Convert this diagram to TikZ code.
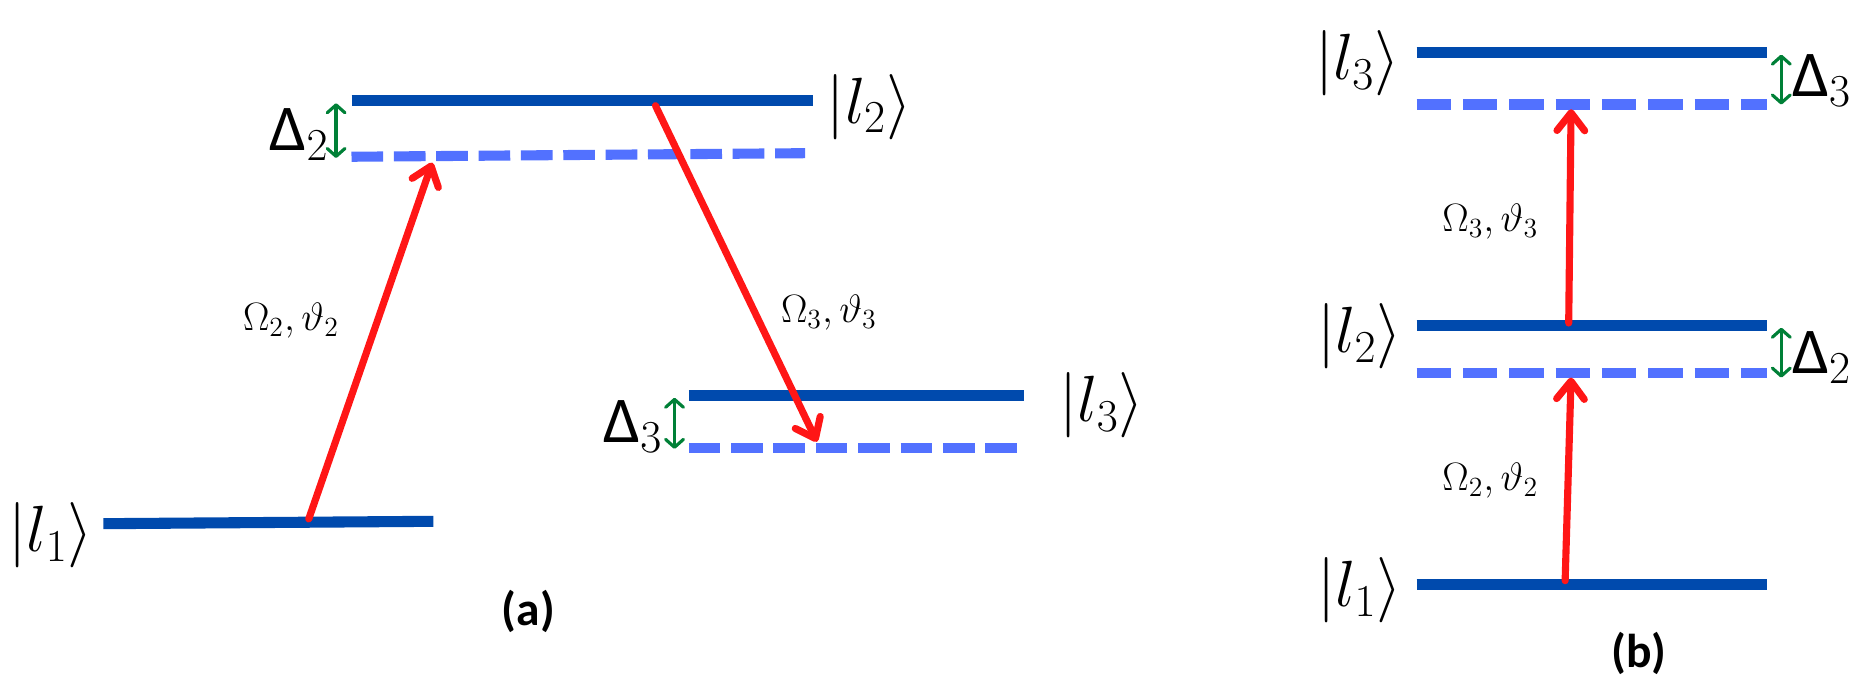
\RequirePackage{fix-cm}
\documentclass[tikz,border=0pt]{standalone}
\usepackage{fontspec}
\newfontfamily\labfont{Carlito}
\usetikzlibrary{arrows.meta}
\definecolor{lvlblue}{RGB}{0,74,173}
\definecolor{dashblue}{RGB}{82,113,255}
\definecolor{arrred}{RGB}{255,22,22}
\definecolor{detgreen}{RGB}{0,128,55}
\newcommand{\Dlt}{\mbox{\labfont Δ}}
\begin{document}
\begin{tikzpicture}[x=0.6pt,y=-0.6pt,
  level/.style={draw=lvlblue, line width=5.6pt},
  vlevel/.style={draw=dashblue, line width=5.1pt, dash pattern=on 16pt off 5.4pt},
  vlevelb/.style={draw=dashblue, line width=5.1pt, dash pattern=on 17.4pt off 6pt},
  trans/.style={draw=arrred, line width=3.6pt, line cap=round,
    -{Straight Barb[length=9pt,width=14pt,round]}},
  det/.style={draw=detgreen, line width=1.6pt,
    {Straight Barb[length=4pt,width=9pt,round]}-{Straight Barb[length=4pt,width=9pt,round]}},
  ket/.style={font=\fontsize{33}{40}\selectfont, inner sep=0pt},
  rab/.style={font=\fontsize{20}{24}\selectfont, inner sep=0pt},
  panellab/.style={font=\labfont\bfseries\fontsize{24}{28}\selectfont, inner sep=0pt}
]
\useasboundingbox (0,0) rectangle (1568,576);

% ---------- panel (a) ----------
\coordinate (a1L) at (87,441);  \coordinate (a1R) at (365,439);
\coordinate (a2L) at (296,85);  \coordinate (a2R) at (685,85);
\coordinate (a2vL) at (296,132); \coordinate (a2vR) at (678,129);
\coordinate (a3L) at (580,333); \coordinate (a3R) at (862,333);
\coordinate (a3vL) at (580,377); \coordinate (a3vR) at (862,377);

\draw[level] (a1L) -- (a1R);
\draw[level] (a2L) -- (a2R);
\draw[vlevel] (a2vL) -- (a2vR);
\draw[level] (a3L) -- (a3R);
\draw[vlevel] (a3vL) -- (a3vR);

\coordinate (aS1) at (260,437); \coordinate (aT1) at (364,137);
\coordinate (aS2) at (552,89);  \coordinate (aT2) at (688,372);
\draw[trans] (aS1) -- (aT1);
\draw[trans] (aS2) -- (aT2);

\coordinate (aD2t) at (283,87);  \coordinate (aD2b) at (283,133);
\coordinate (aD3t) at (568,335); \coordinate (aD3b) at (568,378);
\draw[det] (aD2t) -- (aD2b);
\draw[det] (aD3t) -- (aD3b);

\node[ket] (ka1) at (43,451) {$|l_1\rangle$};
\node[ket] (ka2) at (732,90) {$|l_2\rangle$};
\node[ket] (ka3) at (928,341) {$|l_3\rangle$};
\node[ket, anchor=east] (da2) at (277,113) {$\Dlt_2$};
\node[ket, anchor=east] (da3) at (558,359) {$\Dlt_3$};
\node[rab] (ra2) at (245,270) {$\Omega_2,\vartheta_2$};
\node[rab] (ra3) at (698,263) {$\Omega_3,\vartheta_3$};
\node[panellab] (capa) at (445,515) {(a)};

% ---------- panel (b) ----------
\coordinate (b1L) at (1193,492); \coordinate (b1R) at (1488,492);
\coordinate (b2L) at (1193,274); \coordinate (b2R) at (1488,274);
\coordinate (b2vL) at (1193,314); \coordinate (b2vR) at (1488,314);
\coordinate (b3L) at (1193,44);  \coordinate (b3R) at (1488,44);
\coordinate (b3vL) at (1193,88); \coordinate (b3vR) at (1488,88);

\draw[level] (b1L) -- (b1R);
\draw[level] (b2L) -- (b2R);
\draw[vlevelb] (b2vL) -- (b2vR);
\draw[level] (b3L) -- (b3R);
\draw[vlevelb] (b3vL) -- (b3vR);

\coordinate (bS1) at (1318,489); \coordinate (bT1) at (1323,318);
\coordinate (bS2) at (1321,272); \coordinate (bT2) at (1323,92);
\draw[trans] (bS1) -- (bT1);
\draw[trans] (bS2) -- (bT2);

\coordinate (bD3t) at (1500,46);  \coordinate (bD3b) at (1500,88);
\coordinate (bD2t) at (1500,276); \coordinate (bD2b) at (1500,318);
\draw[det] (bD3t) -- (bD3b);
\draw[det] (bD2t) -- (bD2b);

\node[ket] (kb3) at (1143,53) {$|l_3\rangle$};
\node[ket] (kb2) at (1145,283) {$|l_2\rangle$};
\node[ket] (kb1) at (1145,497) {$|l_1\rangle$};
\node[ket, anchor=west] (db3) at (1509,68) {$\Dlt_3$};
\node[ket, anchor=west] (db2) at (1509,301) {$\Dlt_2$};
\node[rab] (rb3) at (1255,187) {$\Omega_3,\vartheta_3$};
\node[rab] (rb2) at (1255,405) {$\Omega_2,\vartheta_2$};
\node[panellab] (capb) at (1380,550) {(b)};
\end{tikzpicture}
\end{document}
